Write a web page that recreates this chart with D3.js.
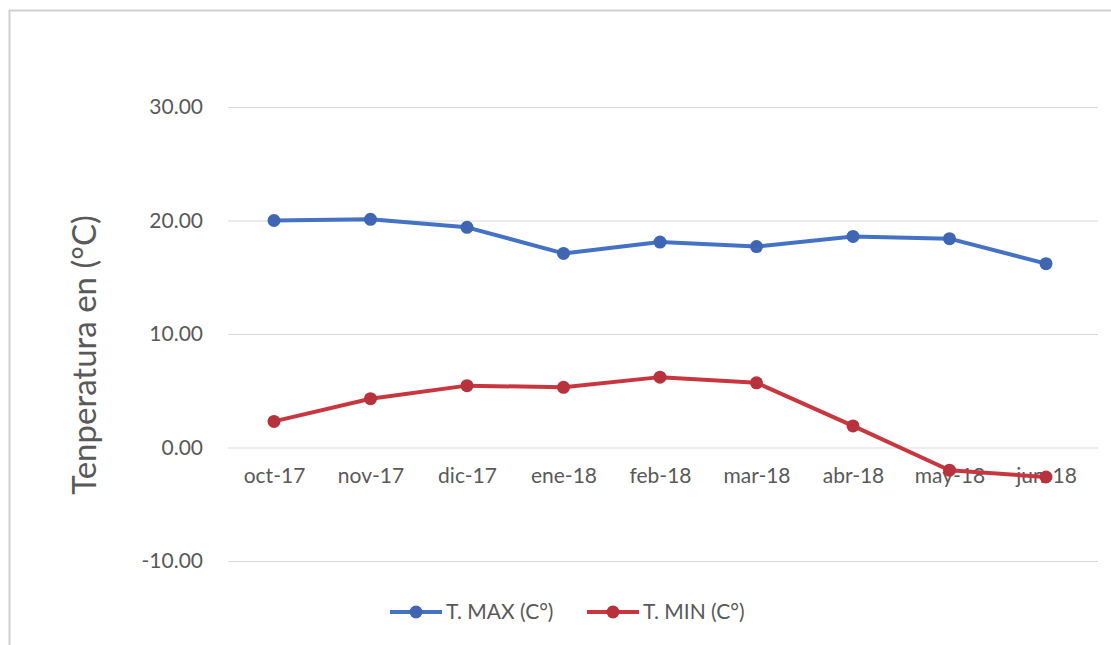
<!DOCTYPE html>
<html>
<head>
<meta charset="utf-8">
<script src="https://cdn.jsdelivr.net/npm/d3@7"></script>
<style>
  html, body { margin: 0; padding: 0; background: #fff; }
  svg { display: block; font-family: Lato, "Open Sans", sans-serif; }
</style>
</head>
<body>
<svg id="chart" width="1111" height="645"></svg>
<script>
const categories = ["oct-17", "nov-17", "dic-17", "ene-18", "feb-18", "mar-18", "abr-18", "may-18", "jun-18"];
const tMax = [20.0, 20.1, 19.4, 17.1, 18.1, 17.7, 18.6, 18.4, 16.2];
const tMin = [2.3, 4.3, 5.45, 5.3, 6.2, 5.7, 1.9, -2.0, -2.6];
const yTicks = [-10, 0, 10, 20, 30];
const seriesNames = ["T. MAX (C°)", "T. MIN (C°)"];
const seriesColors = ["#4472c4", "#c8373f"];
const markerColors = ["#3f66b3", "#b8323d"];

const svg = d3.select("#chart");

// outer frame
svg.append("line").attr("x1", 9).attr("x2", 1111).attr("y1", 10.5).attr("y2", 10.5)
  .attr("stroke", "#d0d0d0").attr("stroke-width", 2);
svg.append("line").attr("x1", 9.5).attr("x2", 9.5).attr("y1", 10).attr("y2", 645)
  .attr("stroke", "#d0d0d0").attr("stroke-width", 2);

const x = d3.scalePoint().domain(categories).range([274, 1046]);
const y = d3.scaleLinear().domain([-10, 30]).range([561, 107]);

const fmt = d => d3.format(".2f")(d).replace("−", "-");
const yAxis = d3.axisLeft(y).tickValues(yTicks).tickSize(-(1098 - 228)).tickFormat(fmt);
const ya = svg.append("g").attr("transform", "translate(228,0)").call(yAxis);
ya.select(".domain").remove();
ya.selectAll(".tick line").attr("stroke", "#d9d9d9").attr("stroke-width", 1);
ya.selectAll(".tick text").attr("x", -25).attr("fill", "#595959")
  .style("font-size", "21px").style("font-family", "Lato, sans-serif");

// x axis labels
const xAxis = d3.axisBottom(x).tickSize(0).tickPadding(0);
const xa = svg.append("g").attr("transform", "translate(0,470)").call(xAxis);
xa.select(".domain").remove();
xa.selectAll(".tick text").attr("fill", "#595959").attr("dy", "0.6em")
  .style("font-size", "21px").style("font-family", "Lato, sans-serif");

// y title
svg.append("text")
  .attr("transform", "translate(96,355) rotate(-90)")
  .attr("text-anchor", "middle")
  .attr("fill", "#595959")
  .style("font-size", "33px")
  .text("Tenperatura en (°C)");

const line = d3.line().x((d, i) => x(categories[i])).y(d => y(d));
[tMax, tMin].forEach((vals, s) => {
  svg.append("path").datum(vals).attr("d", line)
    .attr("fill", "none").attr("stroke", seriesColors[s]).attr("stroke-width", 4)
    .attr("stroke-linejoin", "round");
  svg.append("g").selectAll("circle").data(vals).join("circle")
    .attr("cx", (d, i) => x(categories[i])).attr("cy", d => y(d)).attr("r", 6.5)
    .attr("fill", markerColors[s]);
});

// legend
const legendItems = [{x0: 390, tx: 446}, {x0: 587, tx: 643}];
legendItems.forEach((it, s) => {
  const g = svg.append("g");
  g.append("line").attr("x1", it.x0).attr("x2", it.x0 + 52).attr("y1", 612).attr("y2", 612)
    .attr("stroke", seriesColors[s]).attr("stroke-width", 4);
  g.append("circle").attr("cx", it.x0 + 26).attr("cy", 612).attr("r", 6.5).attr("fill", markerColors[s]);
  g.append("text").attr("x", it.tx).attr("y", 612).attr("dy", "0.35em")
    .attr("fill", "#595959").style("font-size", "21px").text(seriesNames[s]);
});
</script>
</body>
</html>
